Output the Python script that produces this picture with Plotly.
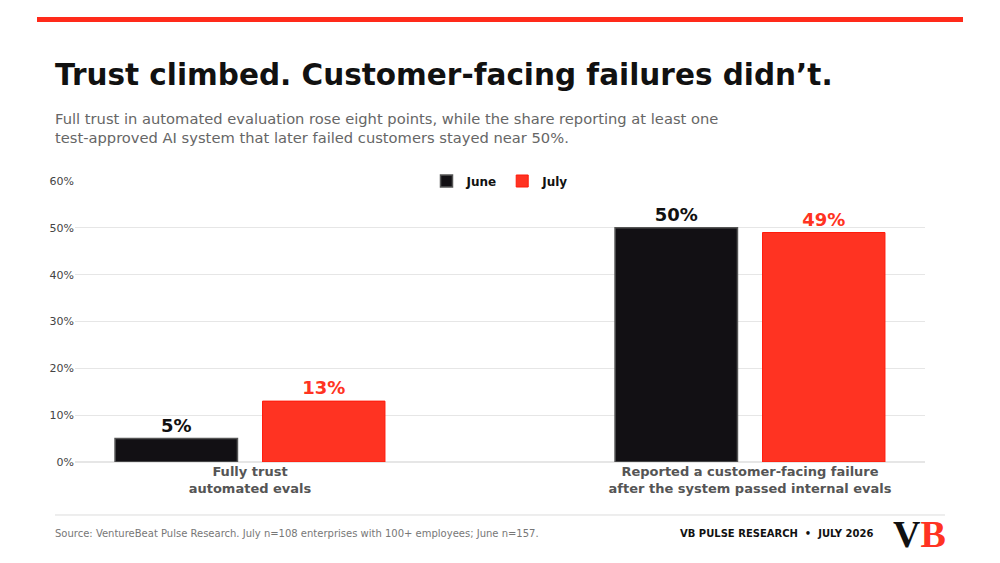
import plotly.graph_objects as go

# data
categories = ["Fully trust<br>automated evals",
              "Reported a customer-facing failure<br>after the system passed internal evals"]
june = [5, 50]
july = [13, 49]
series_names = ["June", "July"]

BLACK = "#121014"
RED = "#ff3322"
FONT = "DejaVu Sans"

fig = go.Figure()
fig.add_trace(go.Bar(x=categories, y=june, name=series_names[0],
                     marker=dict(color=BLACK, line=dict(color="#555", width=1.5)),
                     text=[f"<b>{v}%</b>" for v in june], textposition="outside",
                     textfont=dict(family=FONT, size=18, color="#111"),
                     cliponaxis=False))
fig.add_trace(go.Bar(x=categories, y=july, name=series_names[1],
                     marker=dict(color=RED, line=dict(color="#ff1a0a", width=1)),
                     text=[f"<b>{v}%</b>" for v in july], textposition="outside",
                     textfont=dict(family=FONT, size=18, color=RED),
                     cliponaxis=False))

fig.update_layout(
    width=1000, height=563,
    margin=dict(l=67, r=83, t=173, b=109),
    paper_bgcolor="white", plot_bgcolor="white",
    font=dict(family=FONT, color="#333"),
    barmode="group", bargap=0.41, bargroupgap=0.17,
    showlegend=True,
    legend=dict(orientation="h", x=0.5, xanchor="center", y=1.0, yanchor="middle",
                bgcolor="white", font=dict(family=FONT, size=12, color="#111", weight="bold"),
                itemwidth=30, traceorder="normal"),
    xaxis=dict(range=[-0.35, 1.35], showgrid=False, showline=False, ticks="",
               tickfont=dict(family=FONT, size=13, color="#555", weight="bold")),
    yaxis=dict(range=[0, 60], dtick=10, ticksuffix="%", showgrid=True,
               gridcolor="#e6e6e6", gridwidth=1, zeroline=True, zerolinecolor="#e6e6e6",
               showline=False, ticks="", tickfont=dict(family=FONT, size=11, color="#444")),
    shapes=[
        dict(type="rect", xref="paper", yref="paper", x0=-0.0447, x1=1.0447,
             y0=1.5658, y1=1.5836, fillcolor="#ff2a1a", line=dict(width=0)),
        dict(type="line", xref="paper", yref="paper", x0=-0.0235, x1=1.0235,
             y0=-0.1886, y1=-0.1886, line=dict(color="#dcdcdc", width=1)),
    ],
    annotations=[
        dict(text="<b>Trust climbed. Customer-facing failures didn’t.</b>",
             xref="paper", yref="paper", x=-0.0259, y=1.377, xanchor="left", yanchor="middle",
             showarrow=False, font=dict(family=FONT, size=29.5, color="#111")),
        dict(text="Full trust in automated evaluation rose eight points, while the share reporting at least one"
                  "<br>test-approved AI system that later failed customers stayed near 50%.",
             xref="paper", yref="paper", x=-0.0259, y=1.1886, xanchor="left", yanchor="middle",
             align="left", showarrow=False, font=dict(family=FONT, size=14.7, color="#666")),
        dict(text="Source: VentureBeat Pulse Research. July n=108 enterprises with 100+ employees; June n=157.",
             xref="paper", yref="paper", x=-0.0259, y=-0.2527, xanchor="left", yanchor="middle",
             showarrow=False, font=dict(family=FONT, size=10, color="#777")),
        dict(text="<b>VB PULSE RESEARCH  •  JULY 2026</b>",
             xref="paper", yref="paper", x=0.941, y=-0.2527, xanchor="right", yanchor="middle",
             showarrow=False, font=dict(family=FONT, size=10, color="#111")),
        dict(text="<b>V<span style='color:#ff3322'>B</span></b>",
             xref="paper", yref="paper", x=0.993, y=-0.256, xanchor="center", yanchor="middle",
             showarrow=False, font=dict(family="Liberation Serif", size=38, color="#111")),
    ],
)

fig.write_html("out.html")
